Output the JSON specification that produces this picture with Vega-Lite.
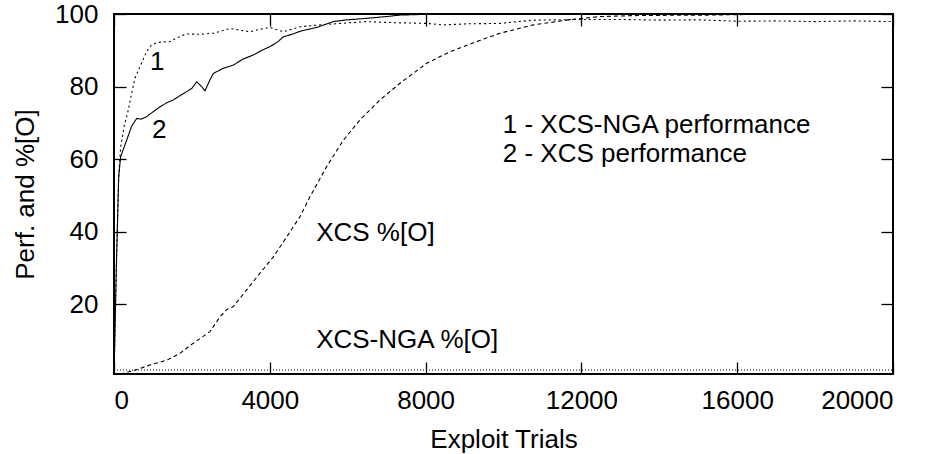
{
  "$schema": "https://vega.github.io/schema/vega-lite/v6.json",
  "width": 779,
  "height": 360,
  "autosize": {"type": "none"},
  "padding": {"left": 114, "top": 14, "right": 40, "bottom": 80},
  "background": "white",
  "config": {
    "view": {"stroke": "black", "strokeWidth": 2},
    "axis": {
      "domain": false,
      "grid": false,
      "ticks": true,
      "tickColor": "black",
      "tickWidth": 1.3,
      "tickSize": -12,
      "labelFont": "Liberation Sans",
      "labelFontSize": 26,
      "labelColor": "black",
      "labelPadding": 28,
      "titleFont": "Liberation Sans",
      "titleFontSize": 26,
      "titleFontWeight": "normal",
      "titleColor": "black"
    }
  },
  "datasets": {
    "curves": [
      {"series": "s1", "x": 0, "y": 0},
      {"series": "s1", "x": 60, "y": 30},
      {"series": "s1", "x": 120, "y": 55},
      {"series": "s1", "x": 172, "y": 63.4},
      {"series": "s1", "x": 260, "y": 69},
      {"series": "s1", "x": 367, "y": 73.5},
      {"series": "s1", "x": 450, "y": 78},
      {"series": "s1", "x": 539, "y": 82.3},
      {"series": "s1", "x": 668, "y": 85.5},
      {"series": "s1", "x": 750, "y": 87.5},
      {"series": "s1", "x": 839, "y": 89.6},
      {"series": "s1", "x": 950, "y": 91.3},
      {"series": "s1", "x": 1096, "y": 92.1},
      {"series": "s1", "x": 1250, "y": 92.3},
      {"series": "s1", "x": 1438, "y": 92.4},
      {"series": "s1", "x": 1650, "y": 93.6},
      {"series": "s1", "x": 1866, "y": 94.5},
      {"series": "s1", "x": 2200, "y": 94.4},
      {"series": "s1", "x": 2550, "y": 94.7},
      {"series": "s1", "x": 2978, "y": 96.0},
      {"series": "s1", "x": 3200, "y": 95.6},
      {"series": "s1", "x": 3492, "y": 95.1},
      {"series": "s1", "x": 3750, "y": 95.8},
      {"series": "s1", "x": 4005, "y": 96.3},
      {"series": "s1", "x": 4347, "y": 95.1},
      {"series": "s1", "x": 4792, "y": 96.5},
      {"series": "s1", "x": 5289, "y": 97.0},
      {"series": "s1", "x": 5800, "y": 97.4},
      {"series": "s1", "x": 6488, "y": 97.9},
      {"series": "s1", "x": 7200, "y": 97.6},
      {"series": "s1", "x": 8028, "y": 97.4},
      {"series": "s1", "x": 8450, "y": 97.0},
      {"series": "s1", "x": 9100, "y": 97.3},
      {"series": "s1", "x": 9910, "y": 97.4},
      {"series": "s1", "x": 10760, "y": 98.3},
      {"series": "s1", "x": 12040, "y": 98.5},
      {"series": "s1", "x": 13000, "y": 98.5},
      {"series": "s1", "x": 14000, "y": 98.3},
      {"series": "s1", "x": 15000, "y": 98.4},
      {"series": "s1", "x": 16000, "y": 98.0},
      {"series": "s1", "x": 17000, "y": 98.1},
      {"series": "s1", "x": 18000, "y": 97.9},
      {"series": "s1", "x": 19000, "y": 98.1},
      {"series": "s1", "x": 20000, "y": 97.9},

      {"series": "s2", "x": 0, "y": 0},
      {"series": "s2", "x": 60, "y": 30},
      {"series": "s2", "x": 120, "y": 55},
      {"series": "s2", "x": 170, "y": 60.6},
      {"series": "s2", "x": 250, "y": 63},
      {"series": "s2", "x": 326, "y": 65.2},
      {"series": "s2", "x": 450, "y": 69},
      {"series": "s2", "x": 583, "y": 71.2},
      {"series": "s2", "x": 700, "y": 71},
      {"series": "s2", "x": 839, "y": 71.7},
      {"series": "s2", "x": 1000, "y": 73},
      {"series": "s2", "x": 1181, "y": 74.4},
      {"series": "s2", "x": 1350, "y": 75.5},
      {"series": "s2", "x": 1523, "y": 76.3},
      {"series": "s2", "x": 1700, "y": 77.5},
      {"series": "s2", "x": 1866, "y": 78.6},
      {"series": "s2", "x": 2000, "y": 79.5},
      {"series": "s2", "x": 2122, "y": 81.3},
      {"series": "s2", "x": 2250, "y": 80},
      {"series": "s2", "x": 2336, "y": 78.8},
      {"series": "s2", "x": 2450, "y": 81.5},
      {"series": "s2", "x": 2550, "y": 83.6},
      {"series": "s2", "x": 2800, "y": 85},
      {"series": "s2", "x": 3063, "y": 85.9},
      {"series": "s2", "x": 3300, "y": 87.5},
      {"series": "s2", "x": 3577, "y": 88.7},
      {"series": "s2", "x": 3800, "y": 90},
      {"series": "s2", "x": 4005, "y": 91},
      {"series": "s2", "x": 4200, "y": 92.3},
      {"series": "s2", "x": 4347, "y": 93.7},
      {"series": "s2", "x": 4600, "y": 94.5},
      {"series": "s2", "x": 4792, "y": 95.3},
      {"series": "s2", "x": 5000, "y": 95.8},
      {"series": "s2", "x": 5204, "y": 96.3},
      {"series": "s2", "x": 5632, "y": 97.9},
      {"series": "s2", "x": 6000, "y": 98.4},
      {"series": "s2", "x": 6488, "y": 98.8},
      {"series": "s2", "x": 7000, "y": 99.3},
      {"series": "s2", "x": 7342, "y": 99.7},
      {"series": "s2", "x": 8000, "y": 99.9},
      {"series": "s2", "x": 10000, "y": 100},
      {"series": "s2", "x": 20000, "y": 100},

      {"series": "s3", "x": 0, "y": 0},
      {"series": "s3", "x": 154, "y": 0.7},
      {"series": "s3", "x": 496, "y": 1.6},
      {"series": "s3", "x": 924, "y": 3.2},
      {"series": "s3", "x": 1353, "y": 4.5},
      {"series": "s3", "x": 1694, "y": 6.4},
      {"series": "s3", "x": 2036, "y": 9.2},
      {"series": "s3", "x": 2465, "y": 12.4},
      {"series": "s3", "x": 2721, "y": 16.5},
      {"series": "s3", "x": 2900, "y": 18.5},
      {"series": "s3", "x": 3063, "y": 19.3},
      {"series": "s3", "x": 3407, "y": 23.9},
      {"series": "s3", "x": 3748, "y": 28.5},
      {"series": "s3", "x": 4090, "y": 33.0},
      {"series": "s3", "x": 4433, "y": 38.5},
      {"series": "s3", "x": 4775, "y": 44.1},
      {"series": "s3", "x": 5032, "y": 49.6},
      {"series": "s3", "x": 5460, "y": 57.9},
      {"series": "s3", "x": 5888, "y": 65.2},
      {"series": "s3", "x": 6316, "y": 70.8},
      {"series": "s3", "x": 6829, "y": 76.3},
      {"series": "s3", "x": 7342, "y": 80.9},
      {"series": "s3", "x": 8028, "y": 86.4},
      {"series": "s3", "x": 8626, "y": 89.6},
      {"series": "s3", "x": 9311, "y": 92.4},
      {"series": "s3", "x": 9910, "y": 94.7},
      {"series": "s3", "x": 10766, "y": 97.0},
      {"series": "s3", "x": 11622, "y": 98.3},
      {"series": "s3", "x": 12478, "y": 99.3},
      {"series": "s3", "x": 13500, "y": 99.6},
      {"series": "s3", "x": 15225, "y": 99.7},
      {"series": "s3", "x": 16500, "y": 99.9},
      {"series": "s3", "x": 20000, "y": 100},

      {"series": "s4", "x": 0, "y": 1.8},
      {"series": "s4", "x": 20000, "y": 1.8}
    ],
    "notes": [
      {"label": "1", "x": 925, "y": 84.6},
      {"label": "2", "x": 975, "y": 65.7},
      {"label": "1 - XCS-NGA performance", "x": 9980, "y": 67.2},
      {"label": "2 - XCS performance", "x": 9980, "y": 59.2},
      {"label": "XCS %[O]", "x": 5190, "y": 37.5},
      {"label": "XCS-NGA %[O]", "x": 5190, "y": 7.8}
    ]
  },
  "layer": [
    {
      "data": {"name": "curves"},
      "mark": {"type": "line", "clip": true, "color": "black", "strokeWidth": 1.1},
      "encoding": {
        "x": {
          "field": "x", "type": "quantitative",
          "scale": {"domain": [0, 20000], "nice": false, "zero": false},
          "axis": {"orient": "bottom", "values": [0, 4000, 8000, 12000, 16000, 20000], "format": "d", "title": "Exploit Trials", "labelPadding": 25, "titlePadding": 13}
        },
        "y": {
          "field": "y", "type": "quantitative",
          "scale": {"domain": [0.7, 100], "nice": false, "zero": false},
          "axis": {"orient": "left", "values": [20, 40, 60, 80, 100], "format": "d", "title": "Perf. and %[O]", "titlePadding": 16}
        },
        "detail": {"field": "series", "type": "nominal"},
        "strokeDash": {
          "field": "series", "type": "nominal",
          "scale": {"domain": ["s1", "s2", "s3", "s4"], "range": [[2, 3], [1, 0], [4, 3], [1, 2]]},
          "legend": null
        }
      }
    },
    {
      "data": {"name": "notes"},
      "mark": {"type": "text", "align": "left", "baseline": "alphabetic", "font": "Liberation Sans", "fontSize": 26, "color": "black"},
      "encoding": {
        "x": {"field": "x", "type": "quantitative", "axis": null},
        "y": {"field": "y", "type": "quantitative", "axis": null},
        "text": {"field": "label", "type": "nominal"}
      }
    },
    {
      "data": {"name": "curves"},
      "mark": {"type": "point", "opacity": 0},
      "encoding": {
        "x": {"field": "x", "type": "quantitative", "axis": {"orient": "top", "values": [0, 4000, 8000, 12000, 16000, 20000], "labels": false, "title": null}},
        "y": {"field": "y", "type": "quantitative", "axis": {"orient": "right", "values": [20, 40, 60, 80, 100], "labels": false, "title": null}}
      }
    }
  ],
  "resolve": {"axis": {"x": "independent", "y": "independent"}}
}
